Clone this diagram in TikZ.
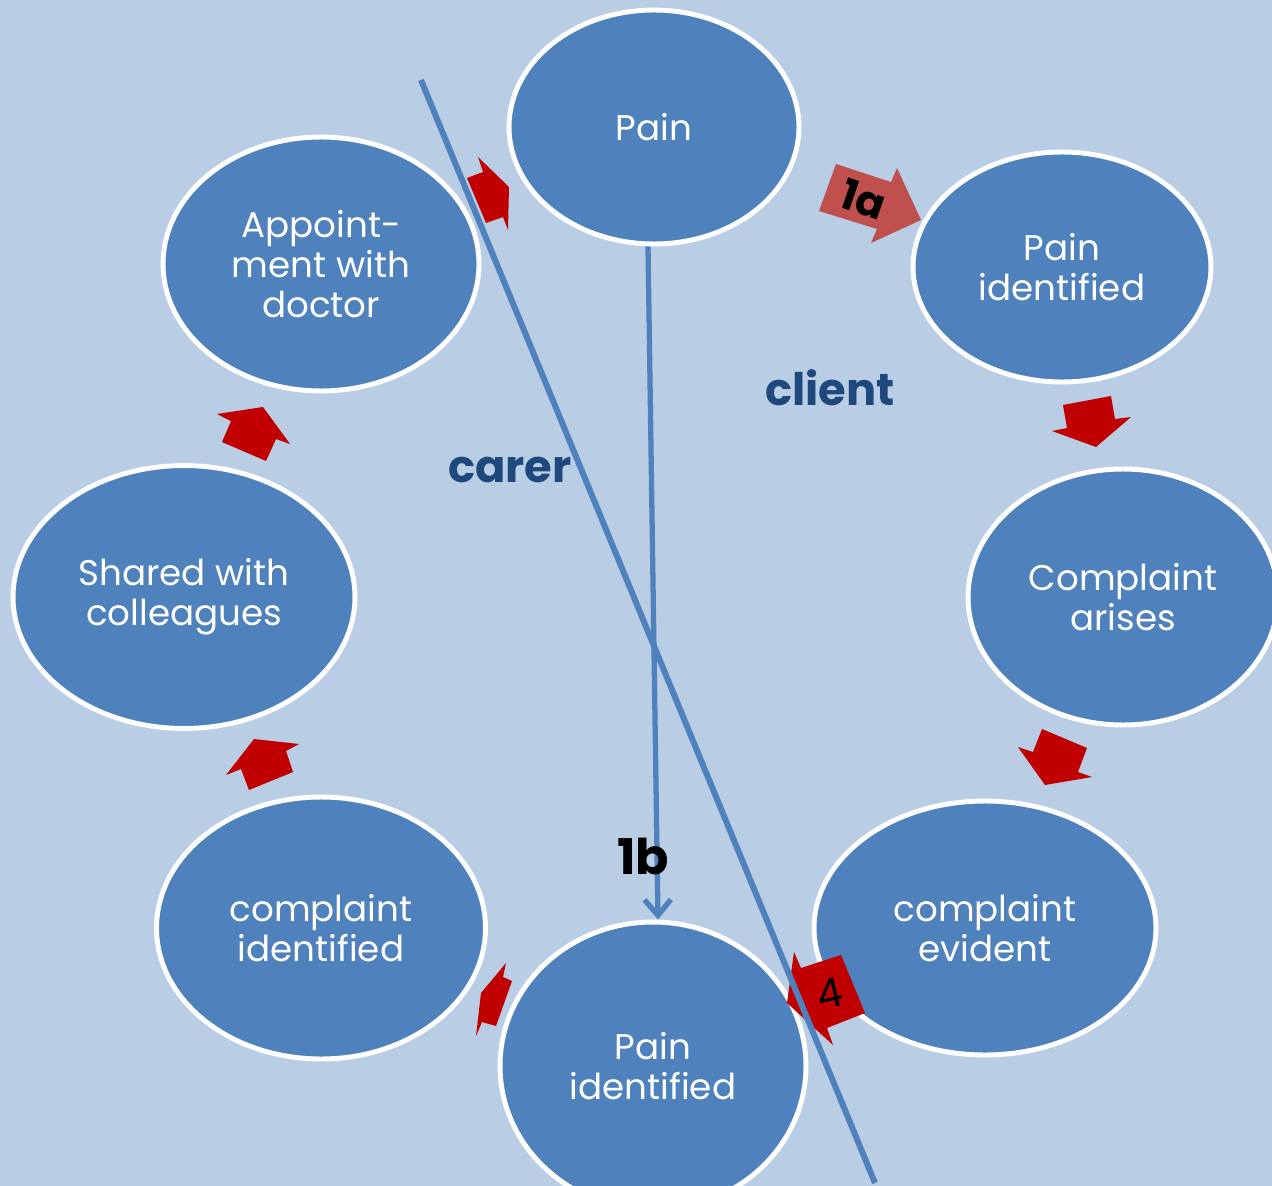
\documentclass[tikz,border=0pt]{standalone}
\usepackage{fontspec}
\setmainfont{Poppins}
\usetikzlibrary{shapes.geometric,arrows.meta}

\definecolor{bgblue}{HTML}{B9CDE5}
\definecolor{blobblue}{HTML}{4F81BD}
\definecolor{darkblue}{HTML}{1F497D}
\definecolor{flowred}{HTML}{C00000}
\definecolor{softred}{HTML}{C0504D}

\tikzset{
  blob/.style={ellipse, draw=white, line width=2.8pt, fill=blobblue, text=white,
    align=center, inner sep=0pt, font=\fontsize{20.3}{22.7}\selectfont},
  flow/.style={fill=flowred},
  side/.style={text=darkblue, font=\fontsize{25.5}{28}\selectfont\bfseries},
  tag/.style={inner sep=0pt, font=\fontsize{24}{26}\selectfont\bfseries},
  divider/.style={draw=blobblue, line width=3.4pt},
}

\begin{document}
\begin{tikzpicture}[x=0.02cm,y=-0.02cm]
  % background
  \fill[bgblue] (0,0) rectangle (1272,1186);
  \useasboundingbox (0,0) rectangle (1272,1186);
  \clip (0,0) rectangle (1272,1186);

  % the eight steps
  \node[blob, minimum width=5.8cm, minimum height=4.68cm] (pain) at (654,127) {Pain};
  \node[blob, minimum width=5.96cm, minimum height=4.6cm] (painid) at (1062,267) {Pain\\identified};
  \node[blob, minimum width=6.2cm, minimum height=5.12cm] (arises) at (1123,597) {Complaint\\arises};
  \node[blob, minimum width=6.84cm, minimum height=5.08cm] (evident) at (985,928) {complaint\\evident};
  \node[blob, minimum width=6.12cm, minimum height=5.76cm] (painb) at (653,1066) {Pain\\identified};
  \node[blob, minimum width=6.58cm, minimum height=5.24cm] (compid) at (321,928) {complaint\\identified};
  \node[blob, minimum width=6.84cm, minimum height=5.26cm] (shared) at (184,597) {Shared with\\colleagues};
  \node[blob, minimum width=6.32cm, minimum height=5.08cm] (appt) at (321,264) {Appoint-\\ment with\\doctor};

  % block arrows round the cycle
  \fill[softred] (836,164) -- (891,182) -- (897,168) -- (921,220) -- (871,243) -- (877,229) -- (819,211) -- cycle;
  \node[tag, rotate=-19] (tag1a) at (863,199) {1a};
  \fill[flow] (1063,405) -- (1111,396) -- (1115,419) -- (1131,417) -- (1096,447) -- (1052,431) -- (1067,428) -- cycle;
  \fill[flow] (1042,729) -- (1087,748) -- (1078,772) -- (1092,777) -- (1045,785) -- (1018,747) -- (1033,752) -- cycle;
  \fill[flow] (794,952) -- (801,968) -- (841,955) -- (865,1013) -- (827,1028) -- (833,1045) -- (787,1003) -- cycle;
  \node[inner sep=0pt, rotate=13, font=\fontsize{23}{25}\selectfont] (tag4) at (830,994) {4};
  \fill[flow] (481,993) -- (506,963) -- (503,977) -- (512,981) -- (496,1026) -- (482,1022) -- (476,1036) -- cycle;
  \fill[flow] (254,739) -- (299,744) -- (286,751) -- (293,772) -- (249,790) -- (241,769) -- (226,775) -- cycle;
  \fill[flow] (217,414) -- (263,407) -- (290,444) -- (276,439) -- (266,461) -- (222,442) -- (231,421) -- cycle;
  \fill[flow] (509,187) -- (478,157) -- (483,172) -- (467,178) -- (486,223) -- (503,217) -- (508,230) -- cycle;

  % direct route 1b
  \draw[divider, line width=3pt, -{Straight Barb[length=9pt,width=15pt]}]
    ([xshift=-0.12cm]pain.south) -- ([xshift=0.1cm]painb.north);
  \node[tag, font=\fontsize{28}{30}\selectfont\bfseries] (tag1b) at (643,856) {1b};

  % carer / client split
  \coordinate (cutA) at (421,80);
  \coordinate (cutB) at (875,1183);
  \draw[divider] (cutA) -- (cutB);
  \node[side] (client) at (830,388) {client};
  \node[side] (carer) at (510,470) {carer};
\end{tikzpicture}
\end{document}
